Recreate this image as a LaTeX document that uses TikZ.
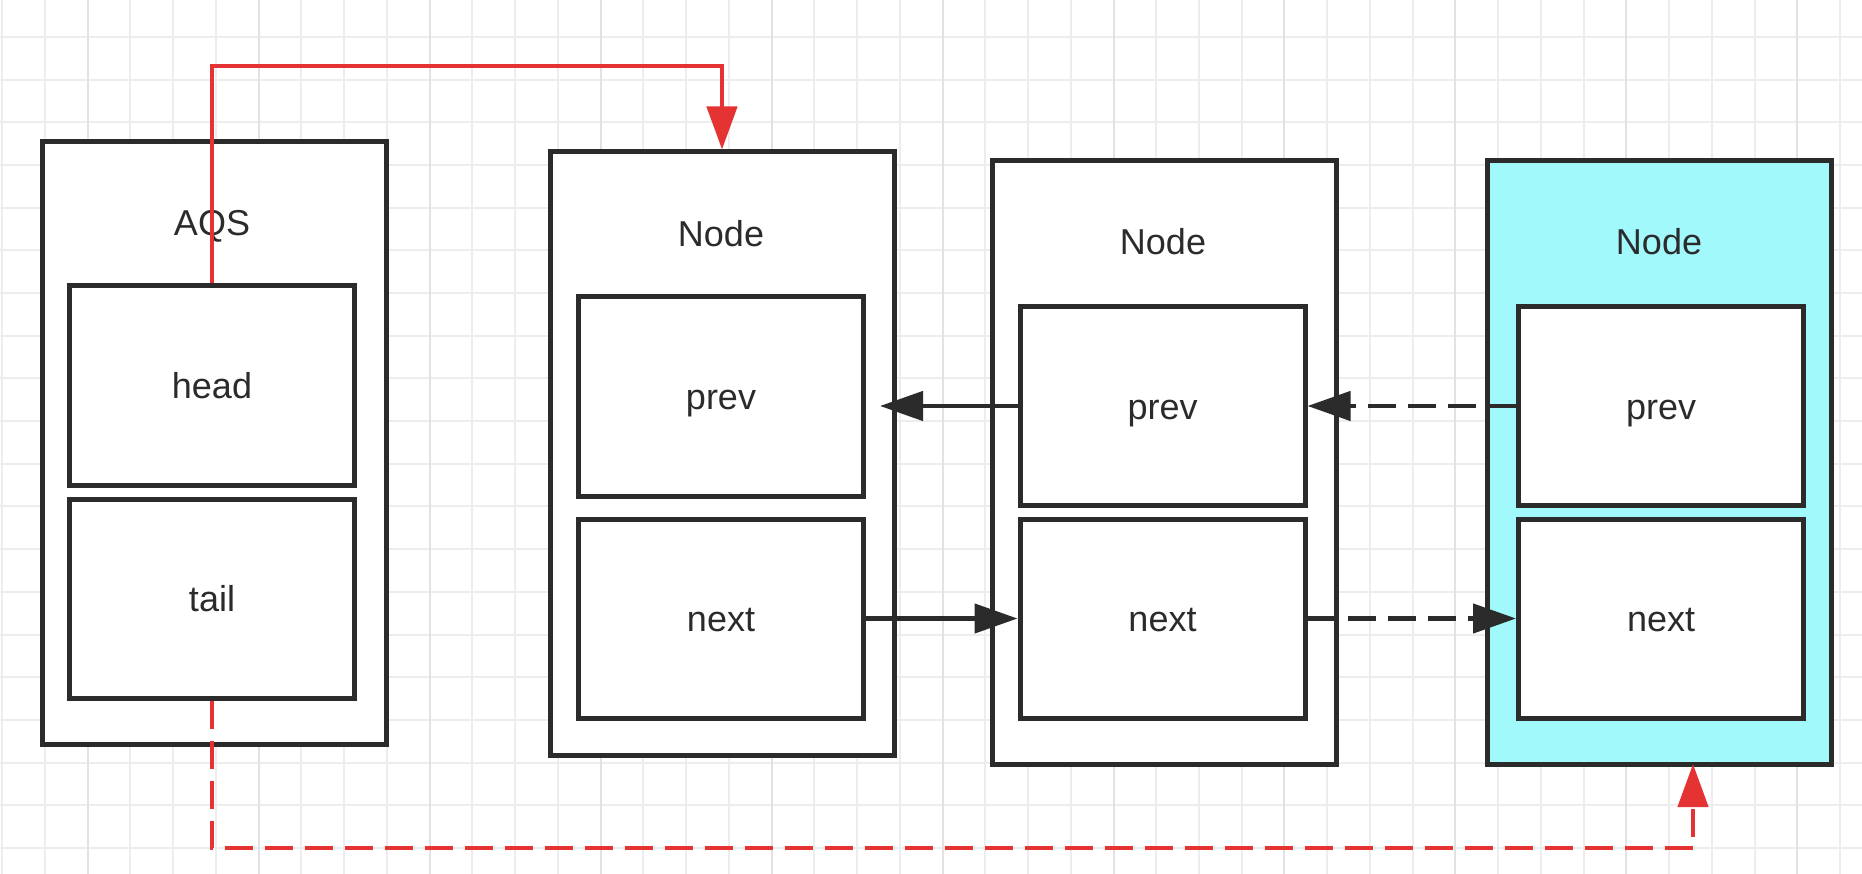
\documentclass[tikz,border=0pt]{standalone}
\usepackage{fontspec}
\setmainfont{Liberation Sans}
\usetikzlibrary{arrows.meta,calc}
\definecolor{ink}{RGB}{43,43,43}
\definecolor{redc}{RGB}{229,51,51}
\definecolor{cyanf}{RGB}{161,249,252}
\definecolor{gridc}{RGB}{237,237,239}
\definecolor{gridm}{RGB}{226,226,229}
\newcommand\dfont{\fontsize{36}{40}\selectfont}
\begin{document}
\begin{tikzpicture}[x=1pt,y=-1pt,
  outerbox/.style={draw=ink, line width=5pt, fill=white, minimum width=344pt, minimum height=603pt, inner sep=0pt},
  field/.style={draw=ink, line width=5pt, fill=white, minimum width=285pt, minimum height=199pt, inner sep=0pt, font=\dfont, text=ink, text height=26pt, text depth=0pt},
  title/.style={font=\dfont, text=ink, text height=26pt, text depth=0pt, inner sep=0pt},
  link/.style={draw=ink, line width=4.5pt, -{Triangle[length=43pt,width=29pt]}},
  redlink/.style={draw=redc, line width=4.5pt, -{Triangle[length=43pt,width=30pt]}},
  dashes/.style={dash pattern=on 28pt off 12pt}]
\useasboundingbox (0,0) rectangle (1862,874);
\fill[white] (0,0) rectangle (1862,874);
% grid
\foreach \i in {0,...,43} {
  \pgfmathsetmacro\gx{2.26+42.74*\i}
  \draw[gridc, line width=2pt] (\gx,0) -- (\gx,874);
}
\foreach \i in {0,...,19} {
  \pgfmathsetmacro\gy{37+42.68*\i}
  \draw[gridc, line width=2pt] (0,\gy) -- (1862,\gy);
}
\foreach \i in {2,6,...,42} {
  \pgfmathsetmacro\gx{2.26+42.74*\i}
  \draw[gridm, line width=2pt] (\gx,0) -- (\gx,874);
}
% AQS
\node[outerbox] (aqs) at (214.5,443) {};
\node[title] (aqst) at (212,223) {AQS};
\node[field] (head) at (212,385.5) {head};
\node[field] (tail) at (212,598.5) {tail};
% Node 1
\node[outerbox] (n1) at (722,453.5) {};
\node[title] (n1t) at (721,234) {Node};
\node[field] (p1) at (721,396.5) {prev};
\node[field] (x1) at (721,618.5) {next};
% Node 2
\node[outerbox] (n2) at (1164,462.5) {};
\node[title] (n2t) at (1163,242) {Node};
\node[field] (p2) at (1162.5,406) {prev};
\node[field] (x2) at (1162.5,618.5) {next};
% Node 3
\node[outerbox, fill=cyanf] (n3) at (1659,462.5) {};
\node[title] (n3t) at (1659,242) {Node};
\node[field] (p3) at (1661,406) {prev};
\node[field] (x3) at (1661,618.5) {next};
% helper coordinates
\coordinate (rtop) at (0,66);
\coordinate (rbot) at (0,848);
\coordinate (p1end) at (880,406);
\coordinate (n3in) at (1693,764);
% connectors
\draw[link] (p2.west) -- (p1end);
\draw[link] (x1.east) -- (x2.west);
\draw[link, dashes] (p3.west) -- (p2.east);
\draw[link, dashes] (x2.east) -- (x3.west);
\draw[redlink] (head.north) -- (head.north |- rtop) -| (n1.north);
\draw[redlink, dashes] (tail.south) -- (tail.south |- rbot) -| (n3in);
\end{tikzpicture}
\end{document}
